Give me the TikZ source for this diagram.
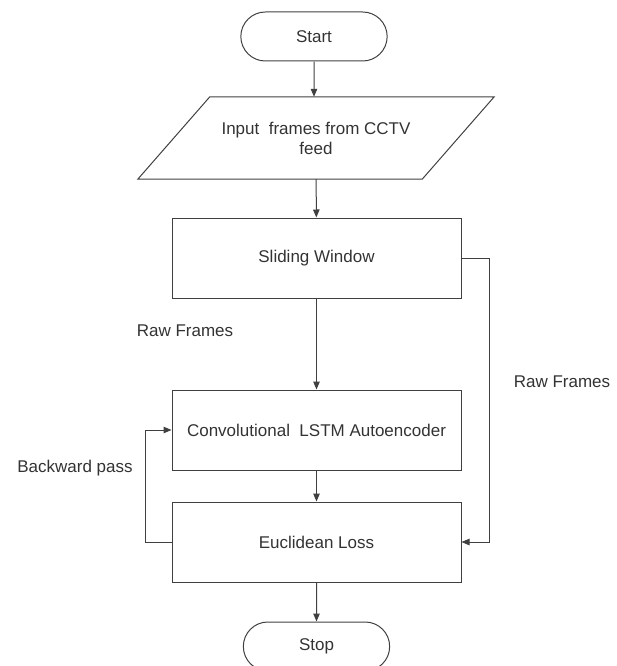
\documentclass[tikz,border=0pt]{standalone}
\usepackage{fontspec}
\setmainfont{Liberation Sans}
\usetikzlibrary{arrows.meta,shapes.misc}
\definecolor{linegray}{HTML}{404040}
\definecolor{textgray}{HTML}{333333}
\tikzset{
  flowbox/.style={draw=linegray,line width=1pt,minimum width=289pt,minimum height=80pt,text=textgray},
  endbox/.style={draw=linegray,line width=1pt,rounded rectangle,minimum width=150pt,minimum height=49pt,text=textgray},
  flowarrow/.style={draw=linegray,line width=1pt,-{Triangle[length=8pt,width=6.5pt]}},
  flowlabel/.style={text=textgray}
}
\begin{document}
\begin{tikzpicture}[x=1pt,y=-1pt,font=\fontsize{17}{20}\selectfont]
          \useasboundingbox (0,0) rectangle (616,666);

          \node[endbox,minimum width=153pt] (start) at (314,36.5) {Start};
          \node[text=textgray,minimum width=284pt,minimum height=82pt,align=center] (input) at (316,138) {Input\ \ frames from CCTV\\feed};
          \draw[linegray,line width=1pt] ([xshift=-36pt]input.south west) -- ([xshift=36pt]input.north west)
            -- ([xshift=36pt]input.north east) -- ([xshift=-36pt]input.south east) -- cycle;
          \node[flowbox] (sliding) at (316.5,258) {Sliding Window};
          \node[flowbox] (conv) at (316.5,430) {Convolutional\ \ LSTM Autoencoder};
          \node[flowbox] (loss) at (316.5,542) {Euclidean Loss};
          \node[endbox,minimum width=153pt] (stop) at (316.5,646.5) {Stop};

          \draw[flowarrow] (start) -- (input.north -| start);
          \draw[flowarrow] (input) -- (sliding);
          \draw[flowarrow] (sliding) -- (conv);
          \draw[flowarrow] (conv) -- (loss);
          \draw[flowarrow] (loss) -- (stop);
          \draw[flowarrow] (sliding.east) -- ++(28,0) |- (loss.east);
          \draw[flowarrow] (loss.west) -- ++(-26,0) |- (conv.west);

          \node[flowlabel] (rawleft) at (185,331) {Raw Frames};
          \node[flowlabel] (rawright) at (562,382) {Raw Frames};
          \node[flowlabel] (backward) at (75,468) {Backward pass};
        \end{tikzpicture}
\end{document}
